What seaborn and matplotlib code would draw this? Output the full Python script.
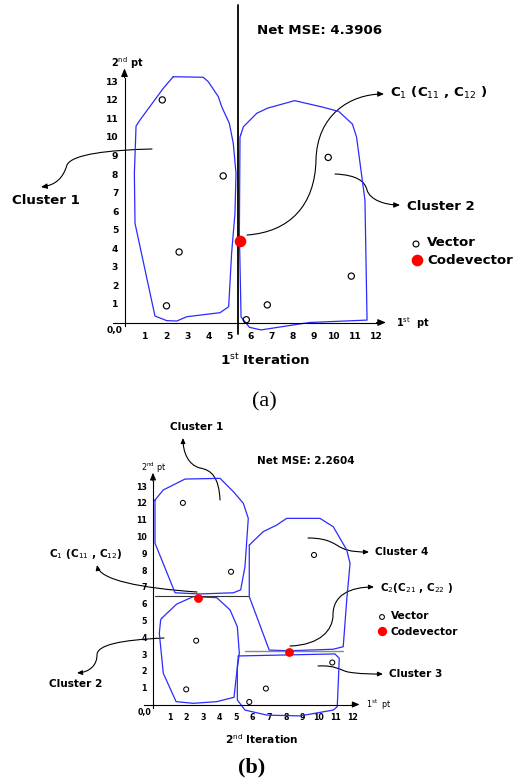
import matplotlib
matplotlib.use("Agg")
import matplotlib.pyplot as plt
import seaborn as sns
import pandas as pd
from matplotlib.path import Path
from matplotlib.patches import FancyArrowPatch

# ---------------- data ----------------
vec_x = [1.8, 4.7, 2.6, 2.0, 5.8, 6.8, 9.7, 10.8]
vec_y = [12.0, 7.9, 3.8, 0.9, 0.15, 0.95, 8.9, 2.5]
x_ticks = list(range(1, 13))
y_ticks = list(range(1, 14))

code_a_x = [5.5]
code_a_y = [4.41]
code_b_x = [2.69, 8.21]
code_b_y = [6.32, 3.14]

mse_a = "4.3906"
mse_b = "2.2604"

split_a_x = 5.42
split_a_y = (-0.62, 17.1)
split_b_x0 = [0.12, 5.54]
split_b_x1 = [5.74, 11.46]
split_b_y = [6.46, 3.2]

cluster1_a = [(2.32, 13.25), (3.75, 13.22), (3.99, 12.98), (4.47, 12.17), (4.63, 11.63),
              (4.99, 10.74), (5.18, 9.66), (5.31, 8.04), (5.26, 5.89), (5.1, 3.73),
              (4.96, 0.85), (4.55, 0.53), (2.96, 0.31), (2.49, 0.08), (2.01, 0.1),
              (1.45, 0.35), (0.5, 5.35), (0.47, 8.04), (0.55, 10.59), (0.74, 10.92),
              (1.85, 12.63), (2.32, 13.25)]
cluster2_a = [(5.53, 10.1), (5.66, 10.55), (6.3, 11.28), (6.8, 11.55), (8.1, 11.96),
              (9.4, 11.62), (10.2, 11.38), (10.85, 10.7), (11.05, 10.0), (11.45, 6.6),
              (11.55, 0.13), (8.8, 0.0), (6.5, -0.4), (5.95, -0.26), (5.55, 0.3),
              (5.47, 4.8), (5.5, 10.0), (5.53, 10.1)]

cluster1_b = [(0.12, 12.17), (0.62, 12.77), (1.93, 13.42), (4.04, 13.46), (4.84, 12.67),
              (5.44, 11.98), (5.74, 11.08), (5.54, 8.2), (5.28, 6.82), (4.84, 6.65),
              (2.83, 6.58), (1.33, 6.65), (0.12, 9.6), (0.12, 12.17)]
cluster2_b = [(0.52, 5.13), (1.43, 5.98), (2.43, 6.42), (3.84, 6.36), (4.64, 5.63),
              (5.08, 4.63), (5.2, 3.05), (5.04, 1.86), (4.88, 0.43), (3.84, 0.17),
              (2.43, 0.07), (1.39, 0.17), (0.62, 1.86), (0.38, 4.24), (0.46, 5.03),
              (0.52, 5.13)]
cluster3_b = [(5.14, 2.89), (10.96, 3.01), (11.22, 2.75), (11.16, 1.26), (11.1, -0.13),
              (10.86, -0.33), (8.86, -0.68), (6.85, -0.63), (5.54, -0.33), (5.08, 0.27),
              (5.08, 2.25), (5.14, 2.89)]
cluster4_b = [(5.8, 9.49), (6.64, 10.29), (7.45, 10.68), (8.05, 11.08), (10.06, 11.08),
              (10.86, 10.58), (11.67, 9.2), (11.87, 8.4), (11.67, 6.22), (11.46, 3.44),
              (10.86, 3.29), (8.25, 3.2), (7.0, 3.24), (6.25, 5.23), (5.8, 6.42), (5.8, 9.49)]

# ---------------- layout ----------------
W, H = 529, 782
PA = dict(ox=124.5, oy=322.5, sx=21.0, sy=18.55, top=0, bottom=390)
PB = dict(ox=153.0, oy=704.5, sx=16.6, sy=16.8, top=390, bottom=782)

sns.set_style("white")
plt.rcParams["font.family"] = ["DejaVu Sans"]
plt.rcParams["mathtext.fontset"] = "dejavusans"
for k in ["text.color", "axes.labelcolor", "xtick.color", "ytick.color", "axes.edgecolor"]:
    plt.rcParams[k] = "black"

fig = plt.figure(figsize=(W / 100, H / 100), dpi=100)
fig.patch.set_facecolor("white")

BLUE = "#2b2bff"


def make_axes(p):
    ax = fig.add_axes([0, 1 - p["bottom"] / H, 1, (p["bottom"] - p["top"]) / H])
    ax.set_xlim(-p["ox"] / p["sx"], (W - p["ox"]) / p["sx"])
    ax.set_ylim((p["oy"] - p["bottom"]) / p["sy"], (p["oy"] - p["top"]) / p["sy"])
    ax.set_facecolor("none")
    return ax


def P(p, x, y):
    return ((x - p["ox"]) / p["sx"], (p["oy"] - y) / p["sy"])


def curve(ax, p, pts, ms=7):
    verts = [P(p, *pt) for pt in pts]
    codes = [Path.MOVETO] + [Path.CURVE4] * (len(verts) - 1)
    arr = FancyArrowPatch(path=Path(verts, codes), arrowstyle="-|>,head_length=0.5,head_width=0.22",
                          mutation_scale=ms, lw=0.8, color="black", shrinkA=0, shrinkB=0)
    ax.add_patch(arr)


def setup_axis(ax, p, tick_fs, xpad, ytop, xright, ms):
    for s in ["top", "right"]:
        ax.spines[s].set_visible(False)
    ax.spines["left"].set_position(("data", 0))
    ax.spines["bottom"].set_position(("data", 0))
    ax.spines["left"].set_bounds(-0.2, ytop)
    ax.spines["bottom"].set_bounds(-0.55, xright)
    for s in ["left", "bottom"]:
        ax.spines[s].set_linewidth(0.8)
        ax.spines[s].set_color("black")
    ax.set_xticks(x_ticks)
    ax.set_yticks(y_ticks)
    ax.set_xticklabels([str(v) for v in x_ticks], fontsize=tick_fs, fontweight="bold")
    ax.set_yticklabels([str(v) for v in y_ticks], fontsize=tick_fs, fontweight="bold")
    ax.tick_params(axis="x", direction="in", length=3, width=0.8, pad=xpad, colors="black")
    ax.tick_params(axis="y", direction="out", length=4, width=0.8, pad=0.5, colors="black")
    ax.set_xlabel("")
    ax.set_ylabel("")
    ax.annotate("", xy=(xright + 0.45, 0), xytext=(xright, 0),
                arrowprops=dict(arrowstyle="-|>,head_length=0.6,head_width=0.25", lw=0.8,
                                color="black", mutation_scale=ms, shrinkA=0, shrinkB=0))
    ax.annotate("", xy=(0, ytop + 0.5), xytext=(0, ytop),
                arrowprops=dict(arrowstyle="-|>,head_length=0.6,head_width=0.25", lw=0.8,
                                color="black", mutation_scale=ms, shrinkA=0, shrinkB=0))


def outline(ax, pts):
    df = pd.DataFrame(pts, columns=["x", "y"])
    ax.plot(df["x"], df["y"], color=BLUE, lw=0.9, zorder=2)


vec_df = pd.DataFrame({"x": vec_x, "y": vec_y})

# ================= panel (a) =================
ax = make_axes(PA)
p = PA
for c in (cluster1_a, cluster2_a):
    outline(ax, c)
ax.plot([split_a_x, split_a_x], split_a_y, color="black", lw=1.3, zorder=3)
sns.scatterplot(data=vec_df, x="x", y="y", ax=ax, marker="o", s=20,
                facecolors="none", edgecolor="black", linewidth=0.85, zorder=4)
sns.scatterplot(x=code_a_x, y=code_a_y, ax=ax, marker="o", s=70, color="red",
                edgecolor="red", linewidth=0, zorder=5)
setup_axis(ax, p, 6.6, 7, 13.2, 12.0, 8)

BIG = 9.6
ax.text(*P(p, 257, 30), f"Net MSE: {mse_a}", fontsize=BIG, fontweight="bold", ha="left", va="center")
ax.text(*P(p, 111, 63), r"2$^{\rm nd}$ pt", fontsize=7, fontweight="bold", ha="left", va="center")
ax.text(*P(p, 396, 323), r"1$^{\rm st}$  pt", fontsize=7, fontweight="bold", ha="left", va="center")
ax.text(*P(p, 115, 331), "0,0", fontsize=6.6, fontweight="bold", ha="center", va="center")
ax.text(*P(p, 12, 200), "Cluster 1", fontsize=BIG, fontweight="bold", ha="left", va="center")
ax.text(*P(p, 407, 206), "Cluster 2", fontsize=BIG, fontweight="bold", ha="left", va="center")
ax.text(*P(p, 390, 93), r"C$_{\rm 1}$ (C$_{\rm 11}$ , C$_{\rm 12}$ )", fontsize=BIG,
        fontweight="bold", ha="left", va="center")
ax.scatter(*P(p, 416, 244), s=18, facecolors="none", edgecolors="black", linewidths=0.85)
ax.text(*P(p, 427, 243), "Vector", fontsize=BIG, fontweight="bold", ha="left", va="center")
ax.scatter(*P(p, 416.5, 259.5), s=70, color="red", linewidths=0)
ax.text(*P(p, 427, 260), "Codevector", fontsize=BIG, fontweight="bold", ha="left", va="center")
ax.text(*P(p, 265, 360), r"1$^{\rm st}$ Iteration", fontsize=BIG, fontweight="bold",
        ha="center", va="center")
ax.text(*P(p, 264, 402), "(a)", fontsize=16, family="Liberation Serif", ha="center", va="center")

curve(ax, p, [(152, 149), (110, 150), (72, 154), (67, 165), (63, 178), (56, 185), (41, 187)])
curve(ax, p, [(247, 235), (290, 232), (315, 205), (316, 160), (317, 115), (350, 94), (384, 94)])
curve(ax, p, [(335, 174), (358, 175), (365, 182), (367, 190), (370, 200), (385, 205), (400, 205)])

# ================= panel (b) =================
ax = make_axes(PB)
p = PB
for c in (cluster1_b, cluster2_b, cluster3_b, cluster4_b):
    outline(ax, c)
ax.plot([split_b_x0[0], split_b_x1[0]], [split_b_y[0], split_b_y[0]], color="#333333", lw=0.8, zorder=3)
ax.plot([split_b_x0[1], split_b_x1[1]], [split_b_y[1], split_b_y[1]], color="#888888", lw=1.0, zorder=3)
sns.scatterplot(data=vec_df, x="x", y="y", ax=ax, marker="o", s=13,
                facecolors="none", edgecolor="black", linewidth=0.75, zorder=4)
sns.scatterplot(x=code_b_x, y=code_b_y, ax=ax, marker="o", s=40, color="red",
                edgecolor="red", linewidth=0, zorder=5)
setup_axis(ax, p, 5.7, 6, 13.3, 12.0, 7)

MID = 7.6
ax.text(*P(p, 257, 461), f"Net MSE: {mse_b}", fontsize=7.5, fontweight="bold", ha="left", va="center")
ax.text(*P(p, 141, 468), r"2$^{\rm nd}$ pt", fontsize=5.8, ha="left", va="center")
ax.text(*P(p, 366, 705), r"1$^{\rm st}$  pt", fontsize=5.8, ha="left", va="center")
ax.text(*P(p, 144, 713), "0,0", fontsize=5.7, fontweight="bold", ha="center", va="center")
ax.text(*P(p, 170, 427), "Cluster 1", fontsize=MID, fontweight="bold", ha="left", va="center")
ax.text(*P(p, 49, 684), "Cluster 2", fontsize=MID, fontweight="bold", ha="left", va="center")
ax.text(*P(p, 389, 674), "Cluster 3", fontsize=MID, fontweight="bold", ha="left", va="center")
ax.text(*P(p, 375, 552), "Cluster 4", fontsize=MID, fontweight="bold", ha="left", va="center")
ax.text(*P(p, 49, 554), r"C$_{\rm 1}$ (C$_{\rm 11}$ , C$_{\rm 12}$)", fontsize=MID,
        fontweight="bold", ha="left", va="center")
ax.text(*P(p, 380, 588), r"C$_{\rm 2}$(C$_{\rm 21}$ , C$_{\rm 22}$ )", fontsize=MID,
        fontweight="bold", ha="left", va="center")
ax.scatter(*P(p, 382, 617), s=12, facecolors="none", edgecolors="black", linewidths=0.75)
ax.text(*P(p, 390.5, 616), "Vector", fontsize=MID, fontweight="bold", ha="left", va="center")
ax.scatter(*P(p, 382, 631), s=45, color="red", linewidths=0)
ax.text(*P(p, 390.5, 632), "Codevector", fontsize=MID, fontweight="bold", ha="left", va="center")
ax.text(*P(p, 262, 739), r"2$^{\rm nd}$ Iteration", fontsize=MID, fontweight="bold",
        ha="center", va="center")
ax.text(*P(p, 252, 767), "(b)", fontsize=16, fontweight="bold", family="Liberation Serif",
        ha="center", va="center")

curve(ax, p, [(220, 500), (219, 478), (212, 470), (200, 468), (188, 465), (183, 452), (183, 438)], 6)
curve(ax, p, [(197, 592), (140, 588), (100, 580), (97, 565)], 6)
curve(ax, p, [(308, 538), (330, 538), (335, 545), (342, 548), (350, 552), (360, 552), (369, 552)], 6)
curve(ax, p, [(290, 646), (320, 645), (333, 630), (333, 615), (333, 595), (350, 587), (374, 587)], 6)
curve(ax, p, [(318, 666), (335, 665), (340, 670), (348, 672), (360, 674), (370, 674), (383, 674)], 6)
curve(ax, p, [(164, 638), (120, 640), (97, 645), (97, 655), (97, 665), (90, 672), (77, 673)], 6)

fig.savefig("out.png", dpi=100, facecolor="white")
